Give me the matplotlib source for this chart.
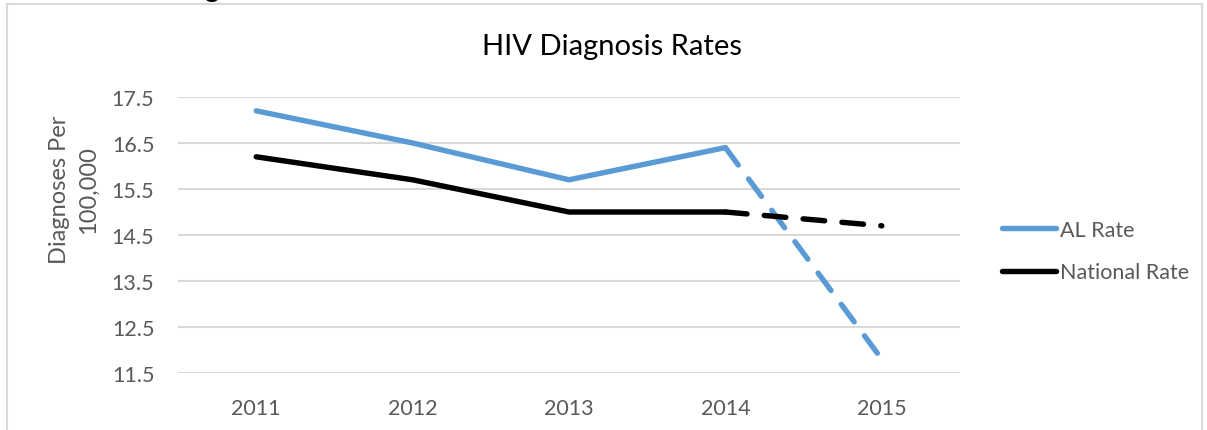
import matplotlib
matplotlib.use("Agg")
import matplotlib.pyplot as plt
from matplotlib.patches import Rectangle
from matplotlib.lines import Line2D

years = ["2011", "2012", "2013", "2014", "2015"]
al_rate = [17.2, 16.5, 15.7, 16.4, 11.8]
national_rate = [16.2, 15.7, 15.0, 15.0, 14.7]
y_ticks = [11.5, 12.5, 13.5, 14.5, 15.5, 16.5, 17.5]
title = "HIV Diagnosis Rates"
ylabel = "Diagnoses Per\n100,000"
series_names = ["AL Rate", "National Rate"]

BLUE = "#5B9BD5"
BLACK = "#000000"
GRAY = "#595959"
GRID = "#D9D9D9"

plt.rcParams['font.family'] = ['Lato', 'DejaVu Sans']

W, H = 1207, 431
fig = plt.figure(figsize=(W / 100, H / 100), dpi=100)

# chart border
fig.add_artist(Rectangle((7 / W, -0.05), (1202 - 7) / W, (1 - 5 / H) + 0.05,
                         transform=fig.transFigure, fill=False,
                         edgecolor=GRID, linewidth=1.5))

# clipped heading fragment at top
fig.text(212 / W, 1 + 3 / H, "g", fontsize=20, fontweight='bold',
         color='black', ha='center', va='baseline')

ax = fig.add_axes([178 / W, 1 - 374 / H, (960 - 178) / W, (374 - 98) / H])
x = list(range(len(years)))
lw = 3.9

ax.plot(x[:4], al_rate[:4], color=BLUE, lw=lw, solid_capstyle='round',
        solid_joinstyle='round', zorder=3)
ax.plot(x[3:], al_rate[3:], color=BLUE, lw=lw, dashes=(4, 3.2),
        dash_capstyle='round', zorder=3)
ax.plot(x[:4], national_rate[:4], color=BLACK, lw=lw, solid_capstyle='round',
        solid_joinstyle='round', zorder=3)
ax.plot(x[3:], national_rate[3:], color=BLACK, lw=lw, dashes=(4, 3.2),
        dash_capstyle='round', zorder=3)

ax.set_xlim(-0.5, len(years) - 0.5)
ax.set_ylim(min(y_ticks), max(y_ticks))
ax.set_xticks(x)
ax.set_xticklabels(years)
ax.set_yticks(y_ticks)
ax.set_yticklabels([f"{v:.1f}" for v in y_ticks])
ax.tick_params(axis='both', length=0, labelsize=15.5, colors=GRAY)
ax.tick_params(axis='x', pad=18)
ax.tick_params(axis='y', pad=17)
for s in ax.spines.values():
    s.set_visible(False)
ax.grid(axis='y', color=GRID, lw=1.5)
ax.set_axisbelow(True)

fig.text(612 / W, 1 - 47 / H, title, fontsize=21, color='black',
         ha='center', va='center')
fig.text(74 / W, 1 - 190 / H, ylabel, fontsize=17, color=GRAY,
         rotation=90, ha='center', va='center', multialignment='center',
         linespacing=1.5)

handles = [Line2D([], [], color=BLUE, lw=lw, solid_capstyle='round'),
           Line2D([], [], color=BLACK, lw=lw, solid_capstyle='round')]
leg = fig.legend(handles, series_names, loc='center left',
                 bbox_to_anchor=(991 / W, 1 - 252 / H), frameon=False,
                 fontsize=15.5, labelcolor=GRAY, handlelength=2.5,
                 handletextpad=0.2, labelspacing=1.05, borderpad=0)

fig.savefig("out.png", dpi=100)
